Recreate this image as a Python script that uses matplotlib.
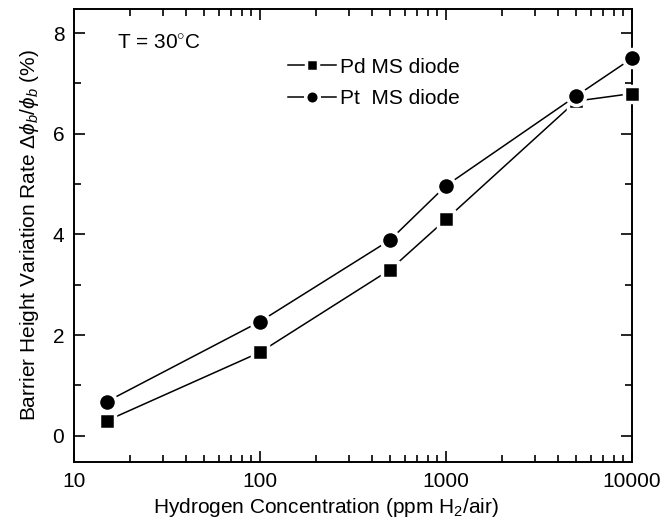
import matplotlib
matplotlib.use('Agg')
import matplotlib.pyplot as plt
from matplotlib.ticker import LogLocator, NullFormatter, FixedLocator

plt.rcParams['font.family'] = ['Liberation Sans', 'DejaVu Sans']
plt.rcParams['mathtext.fontset'] = 'custom'
plt.rcParams['mathtext.rm'] = 'Liberation Sans'
plt.rcParams['mathtext.it'] = 'Liberation Sans:italic'

# data
conc = [15, 100, 500, 1000, 5000, 10000]
pd_diode = [0.30, 1.66, 3.30, 4.30, 6.65, 6.80]
pt_diode = [0.68, 2.27, 3.89, 4.97, 6.75, 7.50]

fig = plt.figure(figsize=(6.69, 5.23), dpi=100)
ax = fig.add_axes([74/669, 1 - 462/523, (632-74)/669, (462-9)/523])

ax.plot(conc, pd_diode, '-s', color='black', lw=1.1, ms=12,
        mec='white', mew=2.5, mfc='black', label='Pd MS diode', clip_on=False, zorder=3)
ax.plot(conc, pt_diode, '-o', color='black', lw=1.1, ms=13,
        mec='white', mew=2.5, mfc='black', label='Pt  MS diode', clip_on=False, zorder=3)

ax.set_xscale('log')
ax.set_xlim(10, 10000)
ax.set_ylim(-0.52, 8.48)
ax.set_xticks([10, 100, 1000, 10000])
ax.set_xticklabels(['10', '100', '1000', '10000'])
ax.xaxis.set_minor_locator(LogLocator(base=10, subs=range(2, 10)))
ax.xaxis.set_minor_formatter(NullFormatter())
ax.set_yticks([0, 2, 4, 6, 8])
ax.yaxis.set_minor_locator(FixedLocator([1, 3, 5, 7]))

ax.tick_params(which='both', direction='in', top=True, right=True, width=1.2)
ax.tick_params(which='major', length=8, labelsize=15, pad=7)
ax.tick_params(which='minor', length=5)
for s in ax.spines.values():
    s.set_linewidth(1.4)

ax.set_xlabel('Hydrogen Concentration (ppm H$_2$/air)', fontsize=15)
ax.xaxis.set_label_coords(0.452, -0.075)
ax.set_ylabel(r'Barrier Height Variation Rate $\Delta\phi_b/\phi_b$ (%)', fontsize=15, labelpad=8)

ax.text(17, 7.7, 'T = 30$^{\\circ}$C', fontsize=15)
ax.legend(loc='upper left', bbox_to_anchor=(0.357, 0.925), frameon=False, fontsize=15,
          handlelength=2.3, handletextpad=0.2, labelspacing=0.6, markerscale=0.75,
          borderpad=0.2)

fig.savefig('out.png', dpi=100)
